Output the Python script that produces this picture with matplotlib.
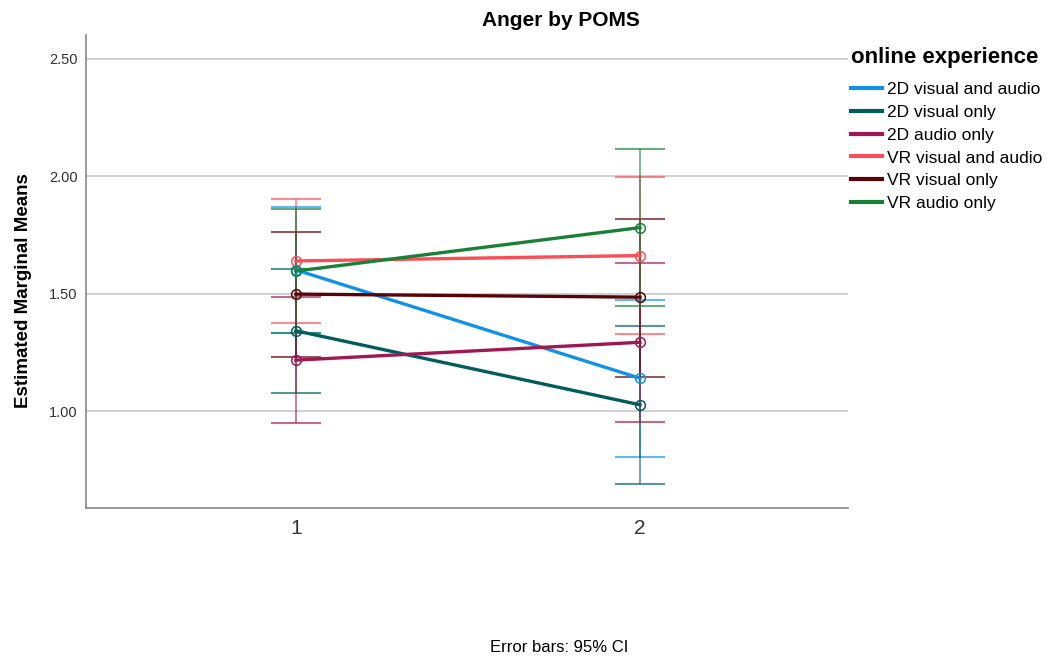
import matplotlib.pyplot as plt

plt.rcParams['font.family'] = ['Liberation Sans', 'DejaVu Sans']

# data
time_points = [1, 2]
groups = ['2D visual and audio', '2D visual only', '2D audio only',
          'VR visual and audio', 'VR visual only', 'VR audio only']
colors = ['#1192e8', '#005d5d', '#9f1853', '#fa4d56', '#570408', '#198038']

means = [[1.602, 1.141],
         [1.343, 1.028],
         [1.218, 1.294],
         [1.640, 1.663],
         [1.499, 1.486],
         [1.597, 1.782]]
ci_low = [[1.335, 0.806],
          [1.077, 0.691],
          [0.950, 0.953],
          [1.375, 1.331],
          [1.233, 1.145],
          [1.334, 1.450]]
ci_high = [[1.869, 1.474],
           [1.606, 1.365],
           [1.486, 1.633],
           [1.903, 1.999],
           [1.765, 1.820],
           [1.860, 2.117]]

fig = plt.figure(figsize=(10.47, 6.58), dpi=100)
ax = fig.add_axes([0.0821, 0.228, 0.728, 0.719])

for i, name in enumerate(groups):
    m = means[i]
    err = [[m[k] - ci_low[i][k] for k in range(2)],
           [ci_high[i][k] - m[k] for k in range(2)]]
    ax.errorbar(time_points, m, yerr=err, fmt='none', ecolor=colors[i],
                alpha=0.65, elinewidth=1.2, capsize=18, capthick=1.5, zorder=3)
for i, name in enumerate(groups):
    ax.plot(time_points, means[i], color=colors[i], lw=2.4, label=name,
            marker='o', markersize=7, markerfacecolor='none',
            markeredgewidth=1.1, zorder=4)

ax.set_xlim(0.39, 2.605)
ax.set_ylim(0.589, 2.602)
ax.set_xticks(time_points)
ax.set_xticklabels(['1', '2'], fontsize=15, color='#333333')
ax.set_yticks([1.0, 1.5, 2.0, 2.5])
ax.set_yticklabels(['1.00', '1.50', '2.00', '2.50'], fontsize=10.5, color='#333333')
ax.tick_params(axis='x', length=0, pad=8)
ax.tick_params(axis='y', length=0, pad=6)
ax.grid(axis='y', color='#c8c8c8', lw=1.2)
ax.set_axisbelow(True)
for s in ['top', 'right']:
    ax.spines[s].set_visible(False)
for s in ['left', 'bottom']:
    ax.spines[s].set_color('#888888')
    ax.spines[s].set_linewidth(1.2)

ax.set_ylabel('Estimated Marginal Means', fontsize=13.5, fontweight='bold')
ax.yaxis.set_label_coords(-0.071, 0.46)

fig.text(561 / 1047, 1 - 21 / 658, 'Anger by POMS', fontsize=15,
         fontweight='bold', ha='center', va='center')
fig.text(559 / 1047, 1 - 648 / 658, 'Error bars: 95% CI', fontsize=12,
         ha='center', va='center')

# legend title drawn separately to get the larger gap under it
fig.text(851 / 1047, 1 - 57 / 658, 'online experience', fontsize=16,
         fontweight='bold', ha='left', va='center')
leg = fig.legend(loc='upper left', bbox_to_anchor=(851 / 1047, 1 - 82 / 658),
                 frameon=False, fontsize=12.5,
                 handlelength=1.8, handletextpad=0.3, labelspacing=0.44,
                 borderaxespad=0, borderpad=0)
for h in leg.legend_handles:
    h.set_marker('')
    h.set_linewidth(3)

fig.savefig('out.png', dpi=100)
